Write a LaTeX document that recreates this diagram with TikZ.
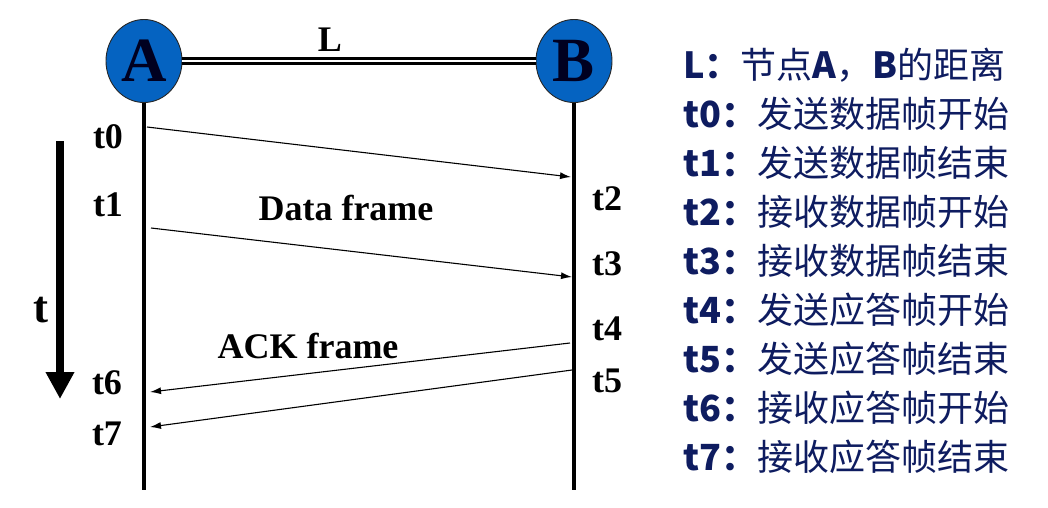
\documentclass[tikz,border=0pt]{standalone}
\usepackage{fontspec}
\setmainfont{Liberation Serif}
\newfontfamily\cjkf{Noto Sans CJK SC}
\usetikzlibrary{arrows.meta,shapes.geometric}
\definecolor{navy}{RGB}{14,28,96}
\definecolor{nodeblue}{RGB}{5,99,193}
\definecolor{letterdark}{RGB}{0,0,32}
\newcommand{\lbl}[1]{{\bfseries #1}}
\tikzset{
  station/.style={ellipse, draw=black!85, line width=0.9pt, fill=nodeblue,
    minimum width=76pt, minimum height=83pt, inner sep=0pt,
    text=letterdark, font=\fontsize{63}{63}\selectfont\bfseries},
  lifeline/.style={line width=4.5pt},
  link/.style={double=white, double distance=1.6pt, line width=3pt},
  msg/.style={line width=1.1pt, -{Latex[length=11pt,width=7pt]}},
  tlabel/.style={inner sep=0pt, text depth=0pt, font=\fontsize{36}{36}\selectfont\bfseries},
  framelabel/.style={inner sep=0pt, text depth=0pt, font=\fontsize{36}{36}\selectfont\bfseries},
  legend/.style={anchor=base west, inner sep=0pt, text=navy, font=\cjkf\fontsize{36}{36}\selectfont},
  timearrow/.style={line width=8pt, -{Triangle[length=27pt,width=27pt]}}
}
\begin{document}
\begin{tikzpicture}[x=1pt,y=-1pt]
\useasboundingbox[fill=white] (0,0) rectangle (1048,507);

% stations
\node[station] (A) at (144,61) {A};
\node[station] (B) at (574,61) {B};
\draw[link] (A) -- (B);
\node[inner sep=0pt, text depth=0pt, font=\fontsize{36}{36}\selectfont\bfseries] (Llab) at (330,40) {L};

% lifelines
\coordinate (Aend) at (144,490);
\coordinate (Bend) at (574,490);
\draw[lifeline] (A.south) -- (Aend);
\draw[lifeline] (B.south) -- (Bend);

% message end points
\coordinate (a0) at (147,127);
\coordinate (b2) at (571,177);
\coordinate (a1) at (151,228);
\coordinate (b3) at (572,277);
\coordinate (b4) at (570,343);
\coordinate (a6) at (150,392);
\coordinate (b5) at (572,370);
\coordinate (a7) at (150,427);

\draw[msg] (a0) -- (b2);
\draw[msg] (a1) -- (b3);
\draw[msg] (b4) -- (a6);
\draw[msg] (b5) -- (a7);

% time labels
\node[tlabel] (t0) at (108,137) {t0};
\node[tlabel] (t1) at (108,205) {t1};
\node[tlabel] (t6) at (107,383) {t6};
\node[tlabel] (t7) at (107,434) {t7};
\node[tlabel] (t2) at (607,199) {t2};
\node[tlabel] (t3) at (607,264) {t3};
\node[tlabel] (t4) at (607,329) {t4};
\node[tlabel] (t5) at (607,381) {t5};

\node[framelabel] (data) at (346,208) {Data frame};
\node[framelabel] (ack) at (308,346) {ACK frame};

% time axis
\coordinate (ttop) at (60,141);
\coordinate (tbot) at (60,399);
\draw[timearrow] (ttop) -- (tbot);
\node[inner sep=0pt, text depth=0pt, font=\fontsize{45}{45}\selectfont\bfseries] (tbig) at (41,310) {t};

% legend
\node[legend] (l0) at (683,78.7)  {\lbl{L：}节点\lbl{A}，\lbl{B}的距离};
\node[legend] (l1) at (683,127.7) {\lbl{t0：}发送数据帧开始};
\node[legend] (l2) at (683,176.7) {\lbl{t1：}发送数据帧结束};
\node[legend] (l3) at (683,225.7) {\lbl{t2：}接收数据帧开始};
\node[legend] (l4) at (683,274.7) {\lbl{t3：}接收数据帧结束};
\node[legend] (l5) at (683,323.7) {\lbl{t4：}发送应答帧开始};
\node[legend] (l6) at (683,372.7) {\lbl{t5：}发送应答帧结束};
\node[legend] (l7) at (683,421.7) {\lbl{t6：}接收应答帧开始};
\node[legend] (l8) at (683,470.7) {\lbl{t7：}接收应答帧结束};
\end{tikzpicture}
\end{document}
